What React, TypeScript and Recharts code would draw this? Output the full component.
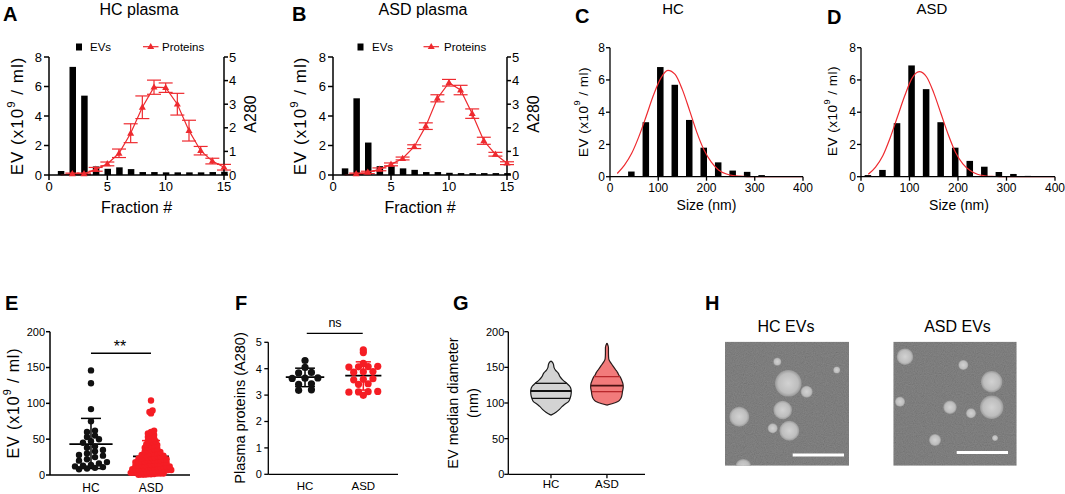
import React from 'react';
import {
  ComposedChart,
  ScatterChart,
  Bar,
  Line,
  Area,
  Scatter,
  XAxis,
  YAxis,
  ErrorBar,
  ReferenceLine,
} from 'recharts';

const FONT = '"Liberation Sans", Arial, Helvetica, sans-serif';
const RED = '#ee2a2f';
const DOT_RED = '#f51d24';
const BLACK = '#000';

// ---------- Panels A / B : SEC fractions ----------
const fractions = [1, 2, 3, 4, 5, 6, 7, 8, 9, 10, 11, 12, 13, 14, 15];
const fractionTicks = [0, 5, 10, 15];
const evTicks = [0, 2, 4, 6, 8];
const a280Ticks = [0, 1, 2, 3, 4, 5];
const hcEv = [0.27, 7.33, 5.38, 0.58, 0.42, 0.52, 0.4, 0.2, 0.2, 0.18, 0.18, 0.18, 0.18, 0.2, 0.22];
const hcProtein = [0, 0.05, 0.05, 0.24, 0.47, 0.92, 1.77, 2.87, 3.72, 3.7, 3.0, 1.88, 1.03, 0.59, 0.33];
const hcProteinSd = [0, 0.03, 0.03, 0.08, 0.08, 0.18, 0.4, 0.48, 0.3, 0.2, 0.46, 0.44, 0.18, 0.12, 0.12];
const asdEv = [0.45, 5.2, 2.2, 0.6, 0.6, 0.45, 0.35, 0.2, 0.2, 0.15, 0.13, 0.13, 0.13, 0.13, 0.13];
const asdProtein = [0, 0.05, 0.11, 0.24, 0.45, 0.7, 1.2, 2.07, 3.25, 3.91, 3.6, 2.6, 1.45, 0.88, 0.5];
const asdProteinSd = [0, 0.03, 0.05, 0.06, 0.06, 0.06, 0.08, 0.14, 0.15, 0.14, 0.2, 0.2, 0.15, 0.08, 0.06];

// ---------- Panels C / D : size distribution ----------
const sizeTicks = [0, 100, 200, 300, 400];
const sizeBins = [15, 45, 75, 105, 135, 165, 195, 225, 255, 285, 315, 345, 375];
const hcSizeCounts = [0, 0.32, 3.38, 6.8, 5.7, 3.52, 1.8, 0.89, 0.38, 0.3, 0.1, 0.04, 0.02];
const asdSizeCounts = [0.1, 0.42, 3.32, 6.9, 5.43, 3.38, 1.8, 0.98, 0.62, 0.29, 0.17, 0.05, 0.02];
const fitSizes = [15, 30, 45, 60, 75, 90, 105, 120, 135, 150, 165, 180, 195, 210, 225, 240, 255, 270, 285, 300, 330, 360, 400];
const hcFit = [0.2, 0.72, 1.45, 2.5, 3.75, 5.05, 6.1, 6.6, 6.35, 5.4, 4.1, 2.75, 1.65, 0.9, 0.42, 0.18, 0.07, 0.03, 0.01, 0, 0, 0, 0];
const asdFit = [0.15, 0.6, 1.3, 2.4, 3.7, 5.0, 6.1, 6.52, 6.2, 5.2, 3.9, 2.6, 1.5, 0.8, 0.38, 0.15, 0.06, 0.02, 0.01, 0, 0, 0, 0];

// ---------- Panel E : EV concentration ----------
const groupNames = ['HC', 'ASD'];
const groupTicks = [1, 2];
const concTicks = [0, 50, 100, 150, 200];
const hcEvConc = [146, 128, 92, 75, 62, 60, 55, 53, 50, 47, 45, 40, 38, 35, 33, 30, 28, 27, 25, 22, 20, 18, 16, 14, 13, 12, 11, 10, 9, 8];
const asdEvConc = [
  104, 90, 88, 86, 62, 60, 58, 56, 55, 53, 51, 50, 48, 47, 46, 45, 43, 42, 41, 40, 39, 38, 37, 36, 35, 34, 33, 32, 31, 30,
  30, 29, 28, 28, 27, 26, 26, 25, 25, 24, 24, 23, 23, 22, 22, 21, 21, 20, 20, 20, 19, 19, 18, 18, 17, 17, 16, 16, 15, 15,
  15, 14, 14, 13, 13, 12, 12, 12, 11, 11, 10, 10, 10, 9, 9, 8, 8, 8, 7, 7, 6, 6, 6, 5, 5, 5, 4, 4, 4, 3, 3, 3, 2, 2, 2,
  1.5, 1, 1, 0.5, 0.5, 0.3,
];
const concMean = [43, 26];
const concUpper = [79, 48];
const concLower = [9, 4];
const concSignifY = 170;

// ---------- Panel F : plasma proteins ----------
const proteinTicks = [0, 1, 2, 3, 4, 5];
const hcPlasmaProtein = [4.31, 4.05, 3.86, 3.84, 3.65, 3.64, 3.63, 3.43, 3.41, 3.2, 3.18];
const asdPlasmaProtein = [4.71, 4.61, 4.2, 4.08, 4.07, 4.09, 4.06, 3.89, 3.88, 3.87, 3.62, 3.6, 3.58, 3.43, 3.41, 3.14, 3.12, 3.13, 3.11, 2.99];
const proteinMean = [3.68, 3.74];
const proteinUpper = [4.02, 4.26];
const proteinLower = [3.32, 3.19];
const proteinSignifY = 5.34;

// ---------- Panel G : EV median diameter (violins) ----------
const diamTicks = [0, 50, 100, 150, 200];
const hcViolinY = [83, 87, 91, 95, 98, 102, 106, 111, 116, 121, 124, 128, 132, 137, 142, 146, 150, 154, 157, 159];
const hcViolinHalf = [0, 0.09, 0.152, 0.196, 0.241, 0.313, 0.339, 0.357, 0.363, 0.352, 0.33, 0.277, 0.214, 0.161, 0.129, 0.08, 0.054, 0.045, 0.027, 0];
const asdViolinY = [97, 99, 102, 106, 111, 116, 122, 127, 131, 136, 139, 143, 147, 151, 154, 158, 162, 170, 178, 184];
const asdViolinHalf = [0, 0.09, 0.196, 0.245, 0.268, 0.277, 0.291, 0.286, 0.268, 0.241, 0.214, 0.188, 0.152, 0.116, 0.089, 0.054, 0.032, 0.027, 0.027, 0];
const hcQuartiles = [106.6, 116.8, 127.6];
const hcQuartileHalf = [0.339, 0.363, 0.28];
const asdQuartiles = [115.9, 124.3, 137];
const asdQuartileHalf = [0.27, 0.29, 0.232];

// ---------- helpers ----------
const tickStyle = (size: number) => ({ fontSize: size, fill: BLACK, fontFamily: FONT });
const line = (w: number) => ({ stroke: BLACK, strokeWidth: w });

function swarm(values: number[], center: number, bin: number, step: number) {
  const groups = new Map<number, number[]>();
  [...values]
    .sort((a, b) => a - b)
    .forEach((v) => {
      const k = Math.round(v / bin);
      if (!groups.has(k)) groups.set(k, []);
      groups.get(k)!.push(v);
    });
  const out: { x: number; y: number }[] = [];
  groups.forEach((arr) => {
    arr.forEach((v, i) => out.push({ x: center + (i - (arr.length - 1) / 2) * step, y: v }));
  });
  return out;
}

const circleShape = (fill: string, r: number) => (p: any) =>
  <circle cx={p.cx} cy={p.cy} r={r} fill={fill} />;

const triangleDot = (p: any) => {
  const { cx, cy, index, payload } = p;
  if (cx == null || cy == null || (payload && payload.f === 1)) return <g key={`tri-${index}`} />;
  return (
    <polygon
      key={`tri-${index}`}
      points={`${cx},${cy - 3.8} ${cx - 3.5},${cy + 2.4} ${cx + 3.5},${cy + 2.4}`}
      fill={RED}
    />
  );
};

function seg(key: string, x1: number, y1: number, x2: number, y2: number, color: string, w: number) {
  return (
    <ReferenceLine
      key={key}
      segment={[{ x: x1, y: y1 }, { x: x2, y: y2 }]}
      stroke={color}
      strokeWidth={w}
      ifOverflow="visible"
    />
  );
}

function meanSd(prefix: string, c: number, mean: number, up: number, lo: number, meanHalf: number, capHalf: number, meanColor: string, sdColor: string) {
  return [
    seg(prefix + 'v', c, lo, c, up, sdColor, 1.5),
    seg(prefix + 'u', c - capHalf, up, c + capHalf, up, sdColor, 1.5),
    seg(prefix + 'l', c - capHalf, lo, c + capHalf, lo, sdColor, 1.5),
    seg(prefix + 'm', c - meanHalf, mean, c + meanHalf, mean, meanColor, 1.8),
  ];
}

// ---------- Panels ----------
function FractionPanel({ left, rightW, ev, prot, sd }: any) {
  const data = fractions.map((f, i) => ({ f, ev: ev[i], prot: prot[i], sd: sd[i] }));
  return (
    <div style={{ position: 'absolute', left, top: 0 }}>
      <ComposedChart width={270} height={200} data={data} margin={{ top: 57, right: 0, bottom: 0, left: 0 }}>
        <XAxis
          type="number"
          dataKey="f"
          domain={[0, 15]}
          ticks={fractionTicks}
          interval={0}
          height={25}
          tickSize={5}
          tickMargin={2}
          axisLine={line(1.5)}
          tickLine={line(1.5)}
          tick={tickStyle(13)}
        />
        <YAxis
          yAxisId="ev"
          domain={[0, 8]}
          ticks={evTicks}
          interval={0}
          width={49}
          tickSize={5}
          tickMargin={2}
          axisLine={line(1.5)}
          tickLine={line(1.5)}
          tick={tickStyle(13)}
        />
        <YAxis
          yAxisId="a280"
          orientation="right"
          domain={[0, 5]}
          ticks={a280Ticks}
          interval={0}
          width={rightW}
          tickSize={4}
          tickMargin={1}
          axisLine={line(1.5)}
          tickLine={line(1.5)}
          tick={tickStyle(13)}
        />
        <Bar yAxisId="ev" dataKey="ev" fill={BLACK} barSize={6.5} isAnimationActive={false} />
        <Line
          yAxisId="a280"
          dataKey="prot"
          stroke={RED}
          strokeWidth={1.2}
          dot={triangleDot}
          activeDot={false}
          isAnimationActive={false}
        >
          <ErrorBar dataKey="sd" width={7} stroke={RED} strokeWidth={1.2} direction="y" />
        </Line>
      </ComposedChart>
    </div>
  );
}

function SizePanel({ left, width, right, counts, fit }: any) {
  const rows = new Map<number, any>();
  sizeBins.forEach((x, i) => rows.set(x, { x, count: counts[i] }));
  fitSizes.forEach((x, i) => {
    const r = rows.get(x) || { x, count: 0 };
    r.fit = fit[i];
    rows.set(x, r);
  });
  const data = [...rows.values()].sort((a, b) => a.x - b.x);
  return (
    <div style={{ position: 'absolute', left, top: 0 }}>
      <ComposedChart width={width} height={200} data={data} margin={{ top: 47.7, right, bottom: 0, left: 0 }}>
        <XAxis
          type="number"
          dataKey="x"
          domain={[0, 400]}
          ticks={sizeTicks}
          interval={0}
          height={23.3}
          tickSize={4}
          tickMargin={2.5}
          axisLine={line(1.3)}
          tickLine={line(1.3)}
          tick={tickStyle(12)}
        />
        <YAxis
          domain={[0, 8]}
          ticks={evTicks}
          interval={0}
          width={40}
          tickSize={4}
          tickMargin={1}
          axisLine={line(1.3)}
          tickLine={line(1.3)}
          tick={tickStyle(12)}
        />
        <Bar dataKey="count" fill={BLACK} barSize={10} isAnimationActive={false} />
        <Line
          dataKey="fit"
          type="monotone"
          stroke={RED}
          strokeWidth={1.2}
          dot={false}
          activeDot={false}
          connectNulls
          isAnimationActive={false}
        />
      </ComposedChart>
    </div>
  );
}

const groupFormatter = (v: number) => groupNames[v - 1] ?? '';

function PanelE() {
  const hcPts = swarm(hcEvConc, 1, 8, 0.133);
  const asdPts = swarm(asdEvConc, 2, 5, 0.052);
  return (
    <div style={{ position: 'absolute', left: 0, top: 300 }}>
      <ScatterChart width={200} height={194} margin={{ top: 31.7, right: 10, bottom: 0, left: 0 }}>
        <XAxis
          type="number"
          dataKey="x"
          domain={[0.317, 2.65]}
          ticks={groupTicks}
          interval={0}
          tickFormatter={groupFormatter}
          height={19}
          tickSize={4}
          tickMargin={4.5}
          axisLine={line(1.5)}
          tickLine={false}
          tick={tickStyle(12)}
        />
        <YAxis
          type="number"
          dataKey="y"
          domain={[0, 200]}
          ticks={concTicks}
          interval={0}
          width={50}
          tickSize={4}
          tickMargin={1}
          axisLine={line(1.5)}
          tickLine={line(1.5)}
          tick={tickStyle(11)}
        />
        <Scatter data={hcPts} shape={circleShape('#111', 3.2)} isAnimationActive={false} />
        <Scatter data={asdPts} shape={circleShape(DOT_RED, 3.2)} isAnimationActive={false} />
        {meanSd('eh', 1, concMean[0], concUpper[0], concLower[0], 0.36, 0.167, '#000', '#000')}
        {meanSd('ea', 2, concMean[1], concUpper[1], concLower[1], 0.3, 0.15, '#000', DOT_RED)}
        {seg('esig', 1, concSignifY, 2, concSignifY, '#000', 1.6)}
      </ScatterChart>
    </div>
  );
}

function PanelF() {
  const hcPts = swarm(hcPlasmaProtein, 1, 0.2, 0.22);
  const asdPts = swarm(asdPlasmaProtein, 2, 0.2, 0.165);
  return (
    <div style={{ position: 'absolute', left: 220, top: 300 }}>
      <ScatterChart width={185} height={194} margin={{ top: 42.3, right: 7, bottom: 0, left: 0 }}>
        <XAxis
          type="number"
          dataKey="x"
          domain={[0.37, 2.595]}
          ticks={groupTicks}
          interval={0}
          tickFormatter={groupFormatter}
          height={19.7}
          tickSize={4}
          tickMargin={3.5}
          axisLine={line(1.3)}
          tickLine={false}
          tick={tickStyle(11.5)}
        />
        <YAxis
          type="number"
          dataKey="y"
          domain={[0, 5]}
          ticks={proteinTicks}
          interval={0}
          width={48.3}
          tickSize={4}
          tickMargin={2.5}
          axisLine={line(1.3)}
          tickLine={line(1.3)}
          tick={tickStyle(11)}
        />
        <Scatter data={hcPts} shape={circleShape('#111', 3.6)} isAnimationActive={false} />
        <Scatter data={asdPts} shape={circleShape(DOT_RED, 3.6)} isAnimationActive={false} />
        {meanSd('fh', 1, proteinMean[0], proteinUpper[0], proteinLower[0], 0.33, 0.17, '#000', '#000')}
        {meanSd('fa', 2, proteinMean[1], proteinUpper[1], proteinLower[1], 0.31, 0.13, '#000', DOT_RED)}
        {seg('fsig', 1.03, proteinSignifY, 1.99, proteinSignifY, '#000', 1.3)}
      </ScatterChart>
    </div>
  );
}

function PanelG() {
  const hcData = hcViolinY.map((y, i) => ({ y, w: [1 - hcViolinHalf[i], 1 + hcViolinHalf[i]] }));
  const asdData = asdViolinY.map((y, i) => ({ y, w: [2 - asdViolinHalf[i], 2 + asdViolinHalf[i]] }));
  return (
    <div style={{ position: 'absolute', left: 480, top: 300 }}>
      <ComposedChart layout="vertical" width={175} height={194} margin={{ top: 31.7, right: 10, bottom: 0, left: 0 }}>
        <XAxis
          type="number"
          domain={[0.2375, 2.68]}
          ticks={groupTicks}
          interval={0}
          tickFormatter={groupFormatter}
          height={19.7}
          tickSize={4}
          tickMargin={2}
          axisLine={line(1.3)}
          tickLine={line(1.3)}
          tick={tickStyle(11.5)}
        />
        <YAxis
          type="number"
          dataKey="y"
          domain={[0, 200]}
          ticks={diamTicks}
          interval={0}
          reversed
          width={28.3}
          tickSize={4}
          tickMargin={0}
          axisLine={line(1.3)}
          tickLine={line(1.3)}
          tick={tickStyle(11)}
        />
        <Area
          data={hcData}
          dataKey="w"
          type="monotone"
          fill="#d3d3d3"
          fillOpacity={1}
          stroke="#1a1a1a"
          strokeWidth={1.2}
          isAnimationActive={false}
          activeDot={false}
        />
        <Area
          data={asdData}
          dataKey="w"
          type="monotone"
          fill="#f27b7b"
          fillOpacity={1}
          stroke="#2a1a1a"
          strokeWidth={1.2}
          isAnimationActive={false}
          activeDot={false}
        />
        {hcQuartiles.map((q, i) =>
          seg('gh' + i, 1 - hcQuartileHalf[i], q, 1 + hcQuartileHalf[i], q, '#111', i === 1 ? 1.8 : 1.3)
        )}
        {asdQuartiles.map((q, i) =>
          seg('ga' + i, 2 - asdQuartileHalf[i], q, 2 + asdQuartileHalf[i], q, i === 1 ? '#4a1212' : '#b8282c', i === 1 ? 1.8 : 1.3)
        )}
      </ComposedChart>
    </div>
  );
}

// ---------- overlay text + micrographs ----------
function T({ x, y, size, anchor = 'middle', weight = 400, children, spacing }: any) {
  return (
    <text x={x} y={y} fontSize={size} textAnchor={anchor} fontWeight={weight} fill="#000" fontFamily={FONT} letterSpacing={spacing}>
      {children}
    </text>
  );
}

function VT({ cx, cy, size, children, spacing }: any) {
  return (
    <text
      x={cx}
      y={cy}
      fontSize={size}
      textAnchor="middle"
      dominantBaseline="central"
      transform={`rotate(-90 ${cx} ${cy})`}
      fill="#000"
      fontFamily={FONT}
      letterSpacing={spacing}
    >
      {children}
    </text>
  );
}

function evLabel(size: number) {
  return [
    <tspan key="a">EV (x10</tspan>,
    <tspan key="b" dy={-size * 0.38} fontSize={size * 0.68}>9</tspan>,
    <tspan key="c" dy={size * 0.38}> / ml)</tspan>,
  ];
}

const hcVesicles = [
  [788.3, 383.3, 13.3], [806.7, 391.7, 6], [739.3, 416.7, 10], [782.7, 410, 9.3], [789.3, 430.7, 10],
  [743.3, 467, 8], [777.3, 361.7, 4], [772.7, 428.3, 5], [836.7, 370, 3.5],
];
const asdVesicles = [
  [905, 356.7, 8.3], [991.7, 381.7, 10.7], [991.7, 407.3, 11.7], [950, 407.3, 6.7], [971, 413.3, 5],
  [935, 440, 6], [900, 401.7, 5], [963.3, 365, 5], [995, 438, 3],
];

function Micrograph({ id, x, y, w, h, ves, bar }: any) {
  return (
    <g>
      <clipPath id={id}>
        <rect x={x} y={y} width={w} height={h} />
      </clipPath>
      <g clipPath={`url(#${id})`}>
        <rect x={x} y={y} width={w} height={h} fill="#6c6c6c" />
        <rect x={x} y={y} width={w} height={h} filter="url(#grain)" opacity={0.22} />
        {ves.map((c: number[], i: number) => (
          <circle key={i} cx={c[0]} cy={c[1]} r={c[2]} fill="url(#vesicle)" />
        ))}
      </g>
      <rect x={bar[0]} y={bar[1]} width={51.3} height={3} fill="#fff" />
    </g>
  );
}

function Overlay() {
  return (
    <svg
      width={1065}
      height={494}
      style={{ position: 'absolute', left: 0, top: 0, pointerEvents: 'none' }}
    >
      <defs>
        <filter id="grain" x="0" y="0" width="100%" height="100%">
          <feTurbulence type="fractalNoise" baseFrequency="0.9" numOctaves="2" seed="4" />
          <feColorMatrix type="matrix" values="0.33 0.33 0.33 0 0  0.33 0.33 0.33 0 0  0.33 0.33 0.33 0 0  0 0 0 0 1" />
        </filter>
        <radialGradient id="vesicle">
          <stop offset="0%" stopColor="#d2d2d2" />
          <stop offset="75%" stopColor="#bdbdbd" />
          <stop offset="100%" stopColor="#999999" />
        </radialGradient>
      </defs>

      {/* panel letters */}
      <T x={3} y={21} size={20} anchor="start" weight={700}>A</T>
      <T x={292} y={21} size={20} anchor="start" weight={700}>B</T>
      <T x={575} y={23} size={20} anchor="start" weight={700}>C</T>
      <T x={827} y={24} size={20} anchor="start" weight={700}>D</T>
      <T x={5} y={310} size={20} anchor="start" weight={700}>E</T>
      <T x={235} y={310} size={20} anchor="start" weight={700}>F</T>
      <T x={453} y={310} size={20} anchor="start" weight={700}>G</T>
      <T x={705} y={310} size={20} anchor="start" weight={700}>H</T>

      {/* titles */}
      <T x={139} y={15} size={16}>HC plasma</T>
      <T x={423} y={15} size={16}>ASD plasma</T>
      <T x={673} y={14} size={15}>HC</T>
      <T x={932} y={14} size={15}>ASD</T>

      {/* legends A, B */}
      <rect x={76} y={43.5} width={6} height={7} fill="#000" />
      <T x={90} y={50.7} size={11.5} anchor="start">EVs</T>
      <line x1={143} y1={46.7} x2={158.5} y2={46.7} stroke={RED} strokeWidth={1.2} />
      <polygon points="150.7,42.9 147.2,49.1 154.2,49.1" fill={RED} />
      <T x={162} y={50.7} size={11.5} anchor="start">Proteins</T>

      <rect x={357.5} y={43.5} width={6} height={7} fill="#000" />
      <T x={372} y={50.7} size={11.5} anchor="start">EVs</T>
      <line x1={423.5} y1={46.7} x2={439} y2={46.7} stroke={RED} strokeWidth={1.2} />
      <polygon points="431.2,42.9 427.7,49.1 434.7,49.1" fill={RED} />
      <T x={444} y={50.7} size={11.5} anchor="start">Proteins</T>

      {/* axis titles A, B */}
      <VT cx={17} cy={116} size={17} spacing={1}>{evLabel(17)}</VT>
      <VT cx={300} cy={116} size={17} spacing={1}>{evLabel(17)}</VT>
      <VT cx={250} cy={114} size={16}>A280</VT>
      <VT cx={533} cy={114} size={16}>A280</VT>
      <T x={136.5} y={213} size={16}>Fraction #</T>
      <T x={420} y={213} size={16}>Fraction #</T>

      {/* axis titles C, D */}
      <VT cx={582.5} cy={112} size={13.5} spacing={0.5}>{evLabel(13.5)}</VT>
      <VT cx={832} cy={111} size={13.5} spacing={0.5}>{evLabel(13.5)}</VT>
      <T x={706.5} y={210} size={14}>Size (nm)</T>
      <T x={959} y={210} size={14}>Size (nm)</T>

      {/* E, F, G */}
      <VT cx={13} cy={403} size={16} spacing={0.9}>{evLabel(16)}</VT>
      <T x={120} y={352} size={16}>**</T>
      <VT cx={240} cy={408} size={14.5}>Plasma proteins (A280)</VT>
      <T x={335} y={326.7} size={12.5}>ns</T>
      <VT cx={453} cy={403} size={14.5}>EV median diameter</VT>
      <VT cx={473} cy={403} size={14.5}>(nm)</VT>

      {/* H micrographs */}
      <T x={786} y={332} size={16}>HC EVs</T>
      <T x={957.5} y={332} size={16}>ASD EVs</T>
      <Micrograph id="clipHc" x={725} y={341.7} w={124} h={124} ves={hcVesicles} bar={[792.7, 453.5]} />
      <Micrograph id="clipAsd" x={893.3} y={341.7} w={123.4} h={124} ves={asdVesicles} bar={[956.7, 451]} />
    </svg>
  );
}

export default function App() {
  return (
    <div
      style={{
        position: 'absolute',
        left: 0,
        top: 0,
        width: 1065,
        height: 494,
        background: '#fff',
        overflow: 'hidden',
        fontFamily: FONT,
      }}
    >
      <FractionPanel left={0} rightW={46} ev={hcEv} prot={hcProtein} sd={hcProteinSd} />
      <FractionPanel left={284} rightW={47} ev={asdEv} prot={asdProtein} sd={asdProteinSd} />
      <SizePanel left={570} width={245} right={12} counts={hcSizeCounts} fit={hcFit} />
      <SizePanel left={821} width={244} right={10} counts={asdSizeCounts} fit={asdFit} />
      <PanelE />
      <PanelF />
      <PanelG />
      <Overlay />
    </div>
  );
}
